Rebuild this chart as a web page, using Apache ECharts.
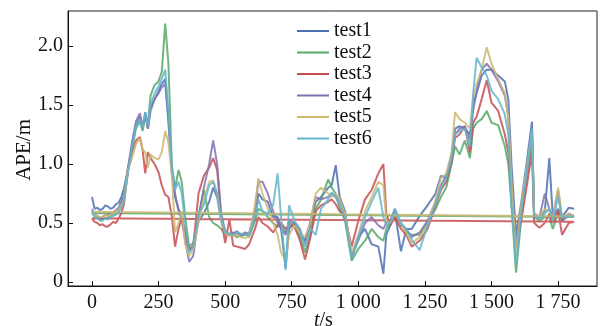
<!DOCTYPE html>
<html>
<head>
<meta charset="utf-8">
<script src="https://cdn.jsdelivr.net/npm/echarts@6/dist/echarts.min.js"></script>
<style>
html,body{margin:0;padding:0;background:#fff;}
#c{width:605px;height:326px;}
</style>
</head>
<body>
<div id="c"></div>
<script>
const times = [0,10,20,30,40,50,60,70,80,90,100,110,120,135,150,165,180,190,200,210,220,235,250,262,275,287,300,312,325,337,350,365,380,400,420,440,455,470,485,500,516,530,545,560,575,590,612,625,640,660,680,697,710,727,740,760,780,800,820,840,860,887,900,915,930,950,975,1000,1025,1050,1075,1094,1105,1120,1137,1160,1180,1200,1230,1260,1290,1310,1330,1350,1363,1380,1400,1419,1431,1444,1463,1482,1500,1525,1550,1563,1575,1592,1610,1630,1652,1660,1680,1700,1717,1730,1750,1765,1790,1810];

const test1 = [0.72,0.62,0.63,0.61,0.62,0.65,0.64,0.62,0.63,0.66,0.67,0.72,0.79,
  0.95,1.15,1.33,1.40,1.30,1.44,1.30,1.48,1.55,1.62,1.68,1.72,1.40,0.95,0.72,0.62,0.55,0.42,0.27,0.30,0.52,0.58,0.68,0.80,0.72,0.52,0.42,0.40,0.41,
  0.43,0.39,0.40,0.41,
  0.55,0.75,0.70,0.68,0.55,0.55,0.45,0.12,0.45,0.50,0.42,0.35,0.48,0.68,0.72,0.80,0.82,0.99,0.72,0.60,0.20,0.38,0.45,0.32,0.30,0.07,0.40,0.48,0.60,0.26,0.45,0.45,0.56,0.65,0.75,0.90,0.88,1.08,1.30,1.32,1.30,1.25,1.50,1.60,1.75,1.80,1.80,1.75,1.70,1.55,1.00,0.40,0.65,0.98,1.36,0.58,0.55,0.60,1.05,0.55,0.62,0.55,0.63,0.62];
const test2 = [0.585,0.56,0.55,0.53,0.53,0.54,0.55,0.56,0.57,0.58,0.61,0.66,0.72,
  0.96,1.12,1.30,1.36,1.28,1.40,1.35,1.58,1.67,1.70,1.78,2.19,1.85,0.98,0.80,0.95,0.85,0.55,0.30,0.33,0.55,0.78,0.55,0.50,0.48,0.45,0.40,0.41,0.40,
  0.38,0.40,0.41,0.38,
  0.52,0.62,0.60,0.55,0.50,0.47,0.48,0.42,0.50,0.48,0.40,0.25,0.40,0.62,0.70,0.87,0.80,0.75,0.62,0.52,0.18,0.28,0.35,0.45,0.38,0.35,0.45,0.50,0.58,0.50,0.42,0.40,0.40,0.50,0.62,0.72,0.80,1.00,1.15,1.08,1.20,1.05,1.30,1.35,1.38,1.45,1.35,1.33,1.15,1.00,0.65,0.08,0.50,0.85,1.20,0.55,0.52,0.55,0.55,0.45,0.58,0.52,0.56,0.55];
const test3 = [0.54,0.51,0.50,0.48,0.49,0.47,0.47,0.49,0.51,0.50,0.54,0.58,0.66,
  0.94,1.08,1.20,1.23,1.12,0.92,1.10,1.05,1.00,0.93,0.82,0.74,0.72,0.55,0.30,0.45,0.55,0.40,0.28,0.30,0.75,0.90,0.97,1.05,0.95,0.55,0.33,0.53,0.31,
  0.30,0.29,0.28,0.32,
  0.45,0.55,0.50,0.47,0.42,0.48,0.50,0.45,0.48,0.47,0.36,0.19,0.38,0.60,0.65,0.68,0.70,0.66,0.60,0.55,0.30,0.52,0.70,0.78,0.92,1.00,0.58,0.48,0.55,0.45,0.40,0.30,0.35,0.45,0.65,0.78,0.85,1.02,1.22,1.25,1.32,1.10,1.35,1.40,1.55,1.71,1.52,1.45,1.25,1.10,0.75,0.30,0.50,0.78,1.10,0.50,0.46,0.50,0.58,0.50,0.60,0.40,0.50,0.51];
const test4 = [0.62,0.57,0.56,0.54,0.55,0.57,0.57,0.58,0.59,0.61,0.63,0.68,0.74,
  0.97,1.18,1.36,1.43,1.32,1.42,1.30,1.45,1.55,1.60,1.65,1.68,1.35,0.92,0.75,0.60,0.52,0.35,0.17,0.22,0.55,0.80,1.00,1.20,1.00,0.58,0.43,0.40,0.42,
  0.41,0.40,0.42,0.41,
  0.62,0.85,0.85,0.75,0.60,0.50,0.45,0.40,0.52,0.50,0.45,0.33,0.52,0.72,0.70,0.72,0.75,0.72,0.68,0.55,0.22,0.35,0.50,0.55,0.48,0.45,0.50,0.52,0.62,0.48,0.45,0.38,0.42,0.52,0.68,0.82,0.90,1.05,1.25,1.30,1.32,1.20,1.45,1.62,1.80,1.85,1.80,1.70,1.58,1.40,0.80,0.32,0.60,0.92,1.25,0.57,0.55,0.75,0.62,0.55,0.78,0.52,0.58,0.56];
const test5 = [0.595,0.57,0.56,0.55,0.55,0.57,0.56,0.57,0.58,0.60,0.61,0.65,0.70,
  0.95,1.05,1.17,1.22,1.12,1.10,0.97,1.08,1.05,1.04,1.10,1.28,1.18,0.90,0.42,0.50,0.60,0.32,0.22,0.28,0.50,0.70,0.85,0.86,0.75,0.52,0.41,0.39,0.40,
  0.40,0.38,0.37,0.39,
  0.65,0.88,0.75,0.62,0.50,0.40,0.25,0.18,0.40,0.48,0.42,0.38,0.50,0.75,0.80,0.75,0.72,0.75,0.70,0.58,0.25,0.40,0.60,0.72,0.85,0.82,0.52,0.50,0.58,0.50,0.42,0.33,0.38,0.48,0.70,0.88,0.92,1.10,1.44,1.38,1.35,1.30,1.56,1.68,1.80,1.99,1.85,1.72,1.60,1.40,0.85,0.25,0.62,0.95,1.27,0.58,0.56,0.62,0.60,0.55,0.80,0.55,0.58,0.555];
const test6 = [0.60,0.55,0.54,0.52,0.52,0.54,0.53,0.55,0.56,0.57,0.59,0.63,0.68,
  0.93,1.14,1.32,1.38,1.30,1.44,1.32,1.50,1.60,1.66,1.72,1.80,1.45,0.98,0.78,0.85,0.75,0.50,0.25,0.30,0.58,0.65,0.82,0.85,0.75,0.55,0.42,0.41,0.40,
  0.42,0.41,0.40,0.40,
  0.55,0.70,0.60,0.58,0.65,0.92,0.55,0.10,0.65,0.52,0.45,0.30,0.45,0.40,0.62,0.70,0.76,0.72,0.65,0.55,0.20,0.38,0.55,0.68,0.80,0.55,0.48,0.50,0.62,0.50,0.45,0.36,0.27,0.48,0.66,0.80,0.88,1.05,1.25,1.28,1.30,1.15,1.60,1.90,1.82,1.75,1.62,1.55,1.42,1.25,0.65,0.15,0.55,0.90,1.30,0.56,0.53,0.58,0.62,0.52,0.72,0.55,0.56,0.55];

const seriesNames = ['test1','test2','test3','test4','test5','test6'];
const seriesValues = [test1,test2,test3,test4,test5,test6];
const seriesColors = ['#4C72B0','#55A868','#C44E52','#8172B2','#CCB974','#64B5CD'];
const closedSeries = ['test2','test3','test5'];
const xTicks = [0,250,500,750,1000,1250,1500,1750];
const yTicks = [0,0.5,1.0,1.5,2.0];

const FONT = '"Liberation Serif", "Times New Roman", serif';

const series = seriesNames.map((name, k) => {
  const vals = seriesValues[k];
  const data = times.map((t, i) => [t, vals[i]]);
  if (closedSeries.indexOf(name) >= 0) data.push([times[0], vals[0]]);
  return {
    name: name,
    type: 'line',
    data: data,
    showSymbol: false,
    symbol: 'none',
    lineStyle: { width: 2, color: seriesColors[k], opacity: 0.85 },
    itemStyle: { color: seriesColors[k] },
    z: 2 + k
  };
});

const chart = echarts.init(document.getElementById('c'), null, { renderer: 'canvas' });
chart.setOption({
  animation: false,
  backgroundColor: '#fff',
  textStyle: { fontFamily: FONT },
  grid: { left: 68, right: 8, top: 11, bottom: 40, show: true, borderColor: '#222', borderWidth: 1, backgroundColor: 'transparent' },
  legend: {
    orient: 'vertical',
    left: 292,
    top: 16,
    icon: 'rect',
    itemWidth: 32,
    itemHeight: 2,
    itemGap: 1.5,
    textStyle: { fontFamily: FONT, fontSize: 20, color: '#111', lineHeight: 20 },
    data: seriesNames
  },
  xAxis: {
    type: 'value',
    min: -90,
    max: 1896,
    axisLine: { show: true, onZero: false, lineStyle: { color: '#111', width: 1 } },
    axisTick: { show: true, inside: true, length: 5, customValues: xTicks, lineStyle: { color: '#111' } },
    axisLabel: {
      customValues: xTicks,
      margin: 7,
      fontFamily: FONT, fontSize: 20, color: '#111',
      formatter: function (v) {
        if (v >= 1000) { const s = String(v); return s.slice(0, s.length - 3) + ' ' + s.slice(-3); }
        return String(v);
      }
    },
    splitLine: { show: false }
  },
  yAxis: {
    type: 'value',
    min: -0.034,
    max: 2.297,
    axisLine: { show: true, onZero: false, lineStyle: { color: '#111', width: 1 } },
    axisTick: { show: true, inside: true, length: 5, customValues: yTicks, lineStyle: { color: '#111' } },
    axisLabel: {
      customValues: yTicks,
      margin: 5,
      fontFamily: FONT, fontSize: 20, color: '#111',
      formatter: function (v) { return v === 0 ? '0' : v.toFixed(1); }
    },
    splitLine: { show: false }
  },
  graphic: [
    {
      type: 'text', left: 14, top: 119, rotation: Math.PI / 2,
      style: { text: 'APE/m', fontFamily: FONT, fontSize: 21, fill: '#111' }
    },
    {
      type: 'text', left: 314, top: 311,
      style: {
        text: '{i|t}/s',
        fontFamily: FONT, fontSize: 20, fill: '#111',
        rich: { i: { fontStyle: 'italic', fontFamily: FONT, fontSize: 20, fill: '#111' } }
      }
    }
  ],
  series: series
});
</script>
</body>
</html>
